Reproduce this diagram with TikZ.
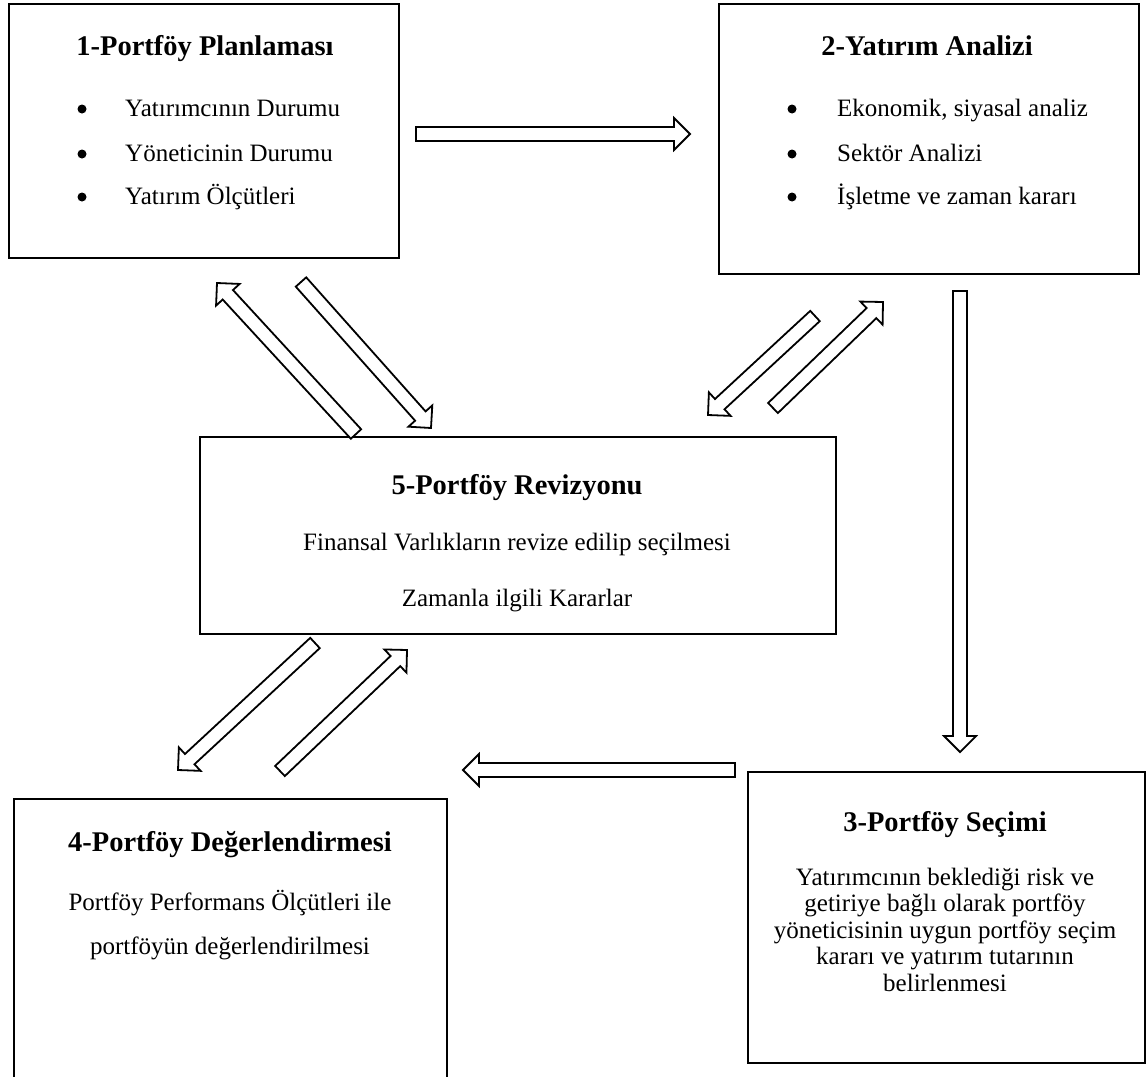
\documentclass[tikz,border=0pt]{standalone}
\usepackage{fontspec}
\setmainfont{Liberation Serif}
\usetikzlibrary{calc}
\tikzset{
  box/.style={draw=black, line width=2pt, fill=white, inner sep=0pt, anchor=north west},
  ttl/.style={anchor=base, inner sep=0pt, font=\fontsize{28.5}{30}\selectfont\bfseries},
  txt/.style={anchor=base, inner sep=0pt, font=\fontsize{25}{27}\selectfont},
  ltxt/.style={txt, anchor=base west},
  bul/.style={circle, fill=black, inner sep=0pt, minimum size=9pt},
  blk/.style={draw=black, line width=1.8pt, fill=white, line join=miter},
}
\newcommand\blockarrow[2]{%
  \draw[blk] let \p1=(#1), \p2=(#2),
    \n1={atan2(\y2-\y1,\x2-\x1)}, \n2={veclen(\x2-\x1,\y2-\y1)} in
    [shift={(\p1)}, rotate=\n1]
    (0pt,-7pt) -- (\n2-16pt,-7pt) -- (\n2-16pt,-16pt) -- (\n2,0pt)
    -- (\n2-16pt,16pt) -- (\n2-16pt,7pt) -- (0pt,7pt) -- cycle;}
\begin{document}
\begin{tikzpicture}[x=1pt,y=-1pt]
\useasboundingbox (0,0) rectangle (1147,1076);
\clip (0,0) rectangle (1147,1076);
\fill[white] (0,0) rectangle (1147,1076);

% boxes
\node[box, minimum width=390pt, minimum height=254pt] (b1) at (8,3) {};
\node[box, minimum width=420pt, minimum height=270pt] (b2) at (718,3) {};
\node[box, minimum width=636pt, minimum height=197pt] (b5) at (199,436) {};
\node[box, minimum width=397pt, minimum height=291pt] (b3) at (747,771) {};
\node[box, minimum width=433pt, minimum height=300pt] (b4) at (13,798) {};

% box 1
\node[ttl] (t1) at (205,55) {1-Portföy Planlaması};
\node[bul] (d11) at (82,109) {};
\node[bul] (d12) at (82,154) {};
\node[bul] (d13) at (82,197) {};
\node[ltxt] (l11) at (125,116) {Yatırımcının Durumu};
\node[ltxt] (l12) at (125,161) {Yöneticinin Durumu};
\node[ltxt] (l13) at (125,204) {Yatırım Ölçütleri};

% box 2
\node[ttl] (t2) at (927,55) {2-Yatırım Analizi};
\node[bul] (d21) at (792,109) {};
\node[bul] (d22) at (792,154) {};
\node[bul] (d23) at (792,197) {};
\node[ltxt] (l21) at (837,116) {Ekonomik, siyasal analiz};
\node[ltxt] (l22) at (837,161) {Sektör Analizi};
\node[ltxt] (l23) at (837,204) {İşletme ve zaman kararı};

% box 5
\node[ttl] (t5) at (517,494) {5-Portföy Revizyonu};
\node[txt] (l51) at (517,550) {Finansal Varlıkların revize edilip seçilmesi};
\node[txt] (l52) at (517,606) {Zamanla ilgili Kararlar};

% box 4
\node[ttl] (t4) at (230,851) {4-Portföy Değerlendirmesi};
\node[txt] (l41) at (230,910) {Portföy Performans Ölçütleri ile};
\node[txt] (l42) at (230,954) {portföyün değerlendirilmesi};

% box 3
\node[ttl] (t3) at (945,831) {3-Portföy Seçimi};
\node[txt] (l31) at (945,885) {Yatırımcının beklediği risk ve};
\node[txt] (l32) at (945,911.5) {getiriye bağlı olarak portföy};
\node[txt] (l33) at (945,938) {yöneticisinin uygun portföy seçim};
\node[txt] (l34) at (945,964.5) {kararı ve yatırım tutarının};
\node[txt] (l35) at (945,991) {belirlenmesi};

% arrow end points
\coordinate (a12s) at (416,134);  \coordinate (a12e) at (690,134);
\coordinate (a23s) at (960,291);  \coordinate (a23e) at (960,752);
\coordinate (a34s) at (735,770);  \coordinate (a34e) at (463,770);
\coordinate (a51s) at (356,434);  \coordinate (a51e) at (217,283);
\coordinate (a15s) at (301,282);  \coordinate (a15e) at (431,428);
\coordinate (a25s) at (815,316);  \coordinate (a25e) at (708,415);
\coordinate (a52s) at (773,408);  \coordinate (a52e) at (883,302);
\coordinate (a54s) at (315,643);  \coordinate (a54e) at (178,770);
\coordinate (a45s) at (280,771);  \coordinate (a45e) at (407,650);

\blockarrow{a12s}{a12e}
\blockarrow{a23s}{a23e}
\blockarrow{a34s}{a34e}
\blockarrow{a51s}{a51e}
\blockarrow{a15s}{a15e}
\blockarrow{a25s}{a25e}
\blockarrow{a52s}{a52e}
\blockarrow{a54s}{a54e}
\blockarrow{a45s}{a45e}
\end{tikzpicture}
\end{document}
